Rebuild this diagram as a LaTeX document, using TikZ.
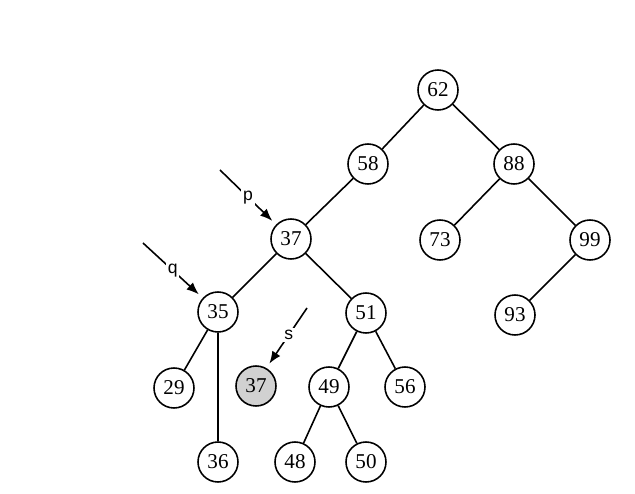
\documentclass[tikz,border=0pt]{standalone}
\usepackage{fontspec}
\setmainfont{Liberation Serif}
\setsansfont{Liberation Sans}
\usepackage{tikz}
\usetikzlibrary{positioning, arrows.meta}
\usepackage{xcolor}

\begin{document}
\begin{tikzpicture}[node distance=1.5cm, on grid, line width=0.9pt,
    key/.style={circle, draw, minimum size=0.8cm, inner sep=0pt, font=\fontsize{12}{14}\selectfont},
    hit/.style={key, fill=black!18},
    ptr/.style={-{Latex[length=7pt, width=5.5pt]}, shorten >=3pt},
    ptrlabel/.style={fill=white, inner sep=1pt, font=\sffamily\fontsize{10}{12}\selectfont}]
   \useasboundingbox (0,0) rectangle (12.7,-9.88);

   \node[key] (k_62) at (8.76,-1.8) {62};
   \node[key] (k_58) [below left=1.48cm and 1.4cm of k_62] {58};
   \node[key] (k_88) [below right=1.48cm and 1.52cm of k_62] {88};
   \node[key] (k_37) [below left=1.5cm and 1.54cm of k_58] {37};
   \node[key] (k_73) [below left=1.52cm and 1.48cm of k_88] {73};
   \node[key] (k_99) [below right=1.52cm and 1.52cm of k_88] {99};
   \node[key] (k_35) [below left=1.46cm and 1.46cm of k_37] {35};
   \node[key] (k_51) [below right=1.48cm and 1.5cm of k_37] {51};
   \node[key] (k_93) [below left=1.5cm and 1.5cm of k_99] {93};
   \node[key] (k_29) [below left=1.52cm and 0.88cm of k_35] {29};
   \node[hit] (k_37s) [below right=1.48cm and 0.76cm of k_35] {37};
   \node[key] (k_49) [below left=1.48cm and 0.74cm of k_51] {49};
   \node[key] (k_56) [below right=1.48cm and 0.78cm of k_51] {56};
   \node[key] (k_36) [below=3cm of k_35] {36};
   \node[key] (k_48) [below left=1.5cm and 0.68cm of k_49] {48};
   \node[key] (k_50) [below right=1.5cm and 0.74cm of k_49] {50};

   % pointers p, q, s
   \coordinate (p_tail) at (4.4,-3.4);
   \coordinate (q_tail) at (2.86,-4.86);
   \coordinate (s_tail) at (6.14,-6.16);

   \path
   (k_62) edge (k_58)
   (k_62) edge (k_88)
   (k_58) edge (k_37)
   (k_88) edge (k_73)
   (k_88) edge (k_99)
   (k_37) edge (k_35)
   (k_37) edge (k_51)
   (k_99) edge (k_93)
   (k_35) edge (k_29)
   (k_35) edge (k_36)
   (k_51) edge (k_49)
   (k_51) edge (k_56)
   (k_49) edge (k_48)
   (k_49) edge (k_50)
    ;

   \draw[ptr] (p_tail) -- node[ptrlabel, pos=0.5] {p} (k_37);
   \draw[ptr] (q_tail) -- node[ptrlabel, pos=0.5] {q} (k_35);
   \draw[ptr] (s_tail) -- node[ptrlabel, pos=0.45] {s} (k_37s.60);
\end{tikzpicture}
\end{document}
